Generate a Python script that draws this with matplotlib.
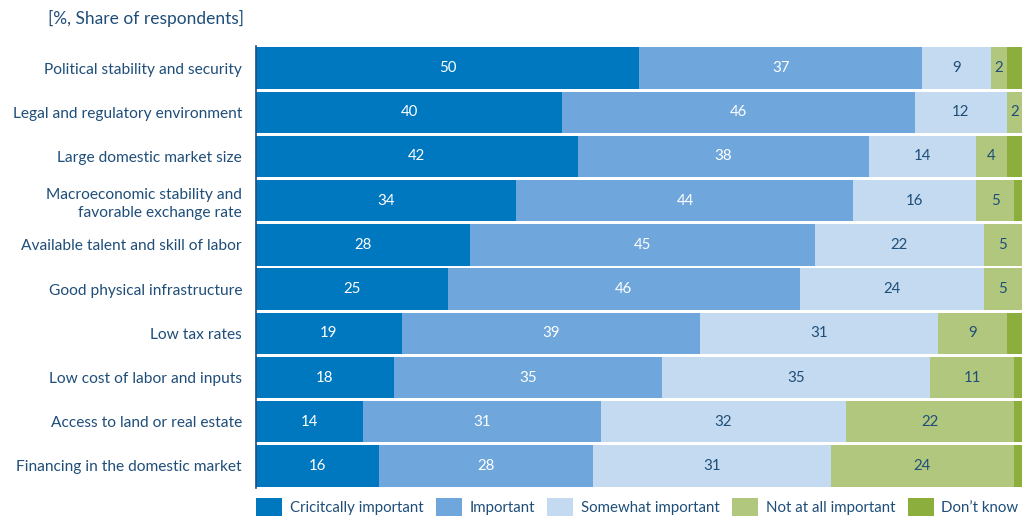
import matplotlib.pyplot as plt
import numpy as np
from matplotlib.patches import Patch

plt.rcParams['font.family'] = ['Lato', 'DejaVu Sans']

categories = ['Political stability and security',
              'Legal and regulatory environment',
              'Large domestic market size',
              'Macroeconomic stability and\nfavorable exchange rate',
              'Available talent and skill of labor',
              'Good physical infrastructure',
              'Low tax rates',
              'Low cost of labor and inputs',
              'Access to land or real estate',
              'Financing in the domestic market']
critical = [50, 40, 42, 34, 28, 25, 19, 18, 14, 16]
important = [37, 46, 38, 44, 45, 46, 39, 35, 31, 28]
somewhat = [9, 12, 14, 16, 22, 24, 31, 35, 32, 31]
not_at_all = [2, 2, 4, 5, 5, 5, 9, 11, 22, 24]
dont_know = [2, 0, 2, 1, 0, 0, 2, 1, 1, 1]

series = [critical, important, somewhat, not_at_all, dont_know]
names = ['Cricitcally important', 'Important', 'Somewhat important',
         'Not at all important', 'Don\u2019t know']
colors = ['#0078bf', '#6fa7dc', '#c3daf0', '#b2c77e', '#8cae3d']
label_colors = ['white', 'white', '#1f4e79', '#1f4e79', None]
txt = '#1f4e79'

fig = plt.figure(figsize=(10.23, 5.21), dpi=100)
ax = fig.add_axes([256 / 1023, 1 - 488 / 521, 766 / 1023, 442 / 521])

y = np.arange(len(categories))
left = np.zeros(len(categories))
for vals, col, lc in zip(series, colors, label_colors):
    vals = np.array(vals, dtype=float)
    bars = ax.barh(y, vals, left=left, color=col, height=0.94)
    if lc is not None:
        for b, v in zip(bars, vals):
            if v > 0:
                ax.text(b.get_x() + b.get_width() / 2, b.get_y() + b.get_height() / 2,
                        f'{int(v)}', ha='center', va='center', color=lc, fontsize=10.8)
    left += vals

ax.set_xlim(0, 100)
ax.set_ylim(len(categories) - 0.5, -0.5)
ax.set_yticks(y)
ax.set_yticklabels(categories, color=txt, fontsize=11.2, linespacing=1.3)
ax.tick_params(axis='y', length=0, pad=10)
ax.set_xticks([])
for s in ['top', 'right', 'bottom']:
    ax.spines[s].set_visible(False)
ax.spines['left'].set_color(txt)
ax.spines['left'].set_linewidth(1.2)

fig.text(48 / 1023, 1 - 18 / 521, '[%, Share of respondents]', color=txt,
         fontsize=12.5, va='center', ha='left')

handles = [Patch(facecolor=c) for c in colors]
leg = fig.legend(handles, names, loc='center left', ncol=5,
                 bbox_to_anchor=(256 / 1023, 1 - 507 / 521), frameon=False,
                 fontsize=10.8, handlelength=1.75, handleheight=1.45,
                 handletextpad=0.5, columnspacing=0.82, borderaxespad=0,
                 borderpad=0)
for t in leg.get_texts():
    t.set_color(txt)

fig.savefig('out.png', dpi=100)
